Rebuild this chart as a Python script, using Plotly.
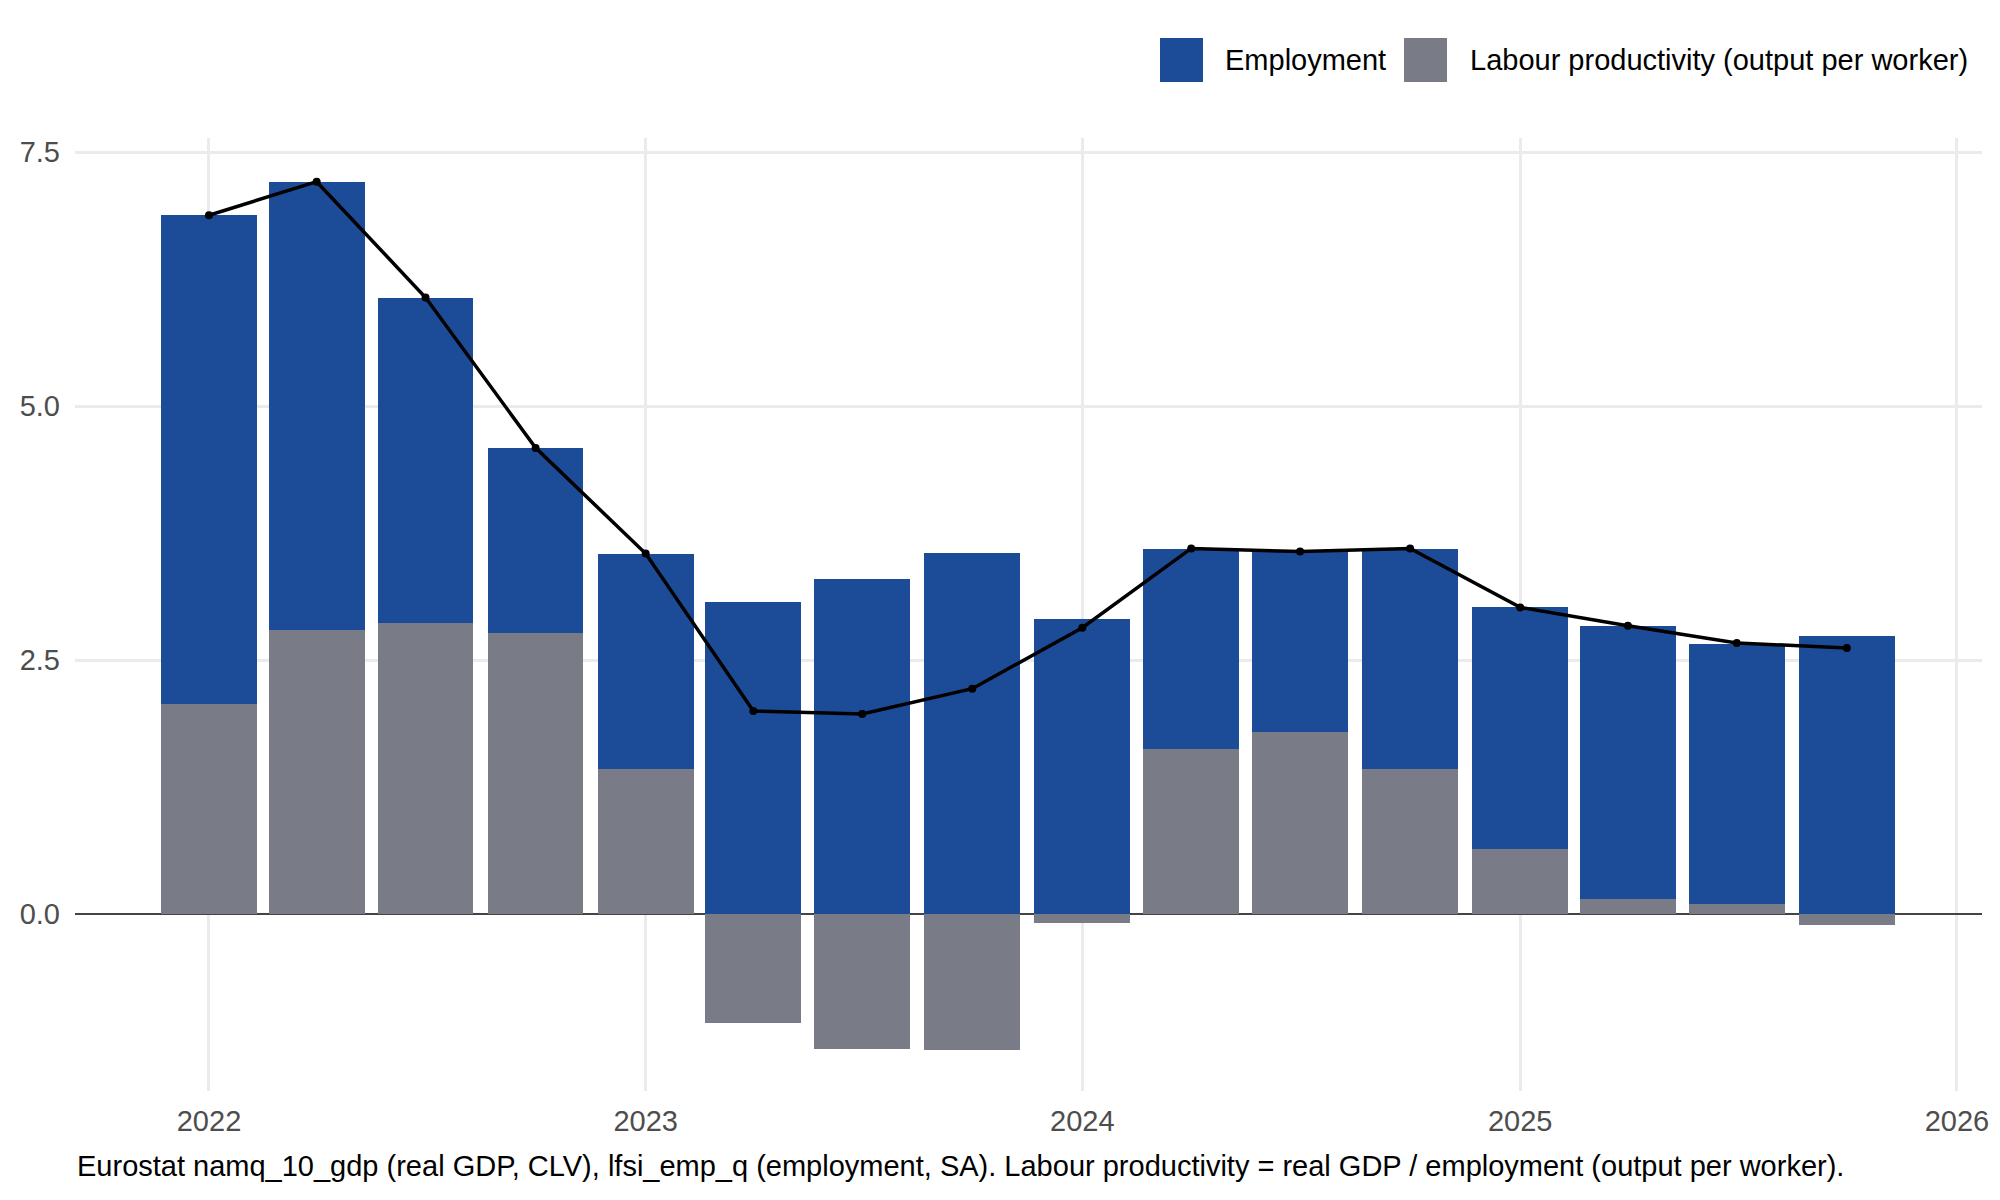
import plotly.graph_objects as go
import pandas as pd

quarters = ["2022-01-01", "2022-04-01", "2022-07-01", "2022-10-01",
            "2023-01-01", "2023-04-01", "2023-07-01", "2023-10-01",
            "2024-01-01", "2024-04-01", "2024-07-01", "2024-10-01",
            "2025-01-01", "2025-04-01", "2025-07-01", "2025-10-01"]
employment = [4.81, 4.41, 3.20, 1.82, 2.12, 3.07, 3.30, 3.56,
              2.91, 1.96, 1.79, 2.16, 2.38, 2.69, 2.56, 2.74]
productivity = [2.07, 2.80, 2.87, 2.77, 1.43, -1.07, -1.33, -1.34,
                -0.09, 1.63, 1.79, 1.43, 0.64, 0.15, 0.10, -0.11]
gdp_growth = [6.88, 7.21, 6.07, 4.59, 3.55, 2.00, 1.97, 2.22,
              2.82, 3.60, 3.57, 3.60, 3.02, 2.84, 2.67, 2.62]
year_ticks = ["2022-01-01", "2023-01-01", "2024-01-01", "2025-01-01", "2026-01-01"]
year_labels = ["2022", "2023", "2024", "2025", "2026"]
y_ticks = [0.0, 2.5, 5.0, 7.5]

BLUE = "#1c4b97"
GRAY = "#797c86"
FONT = "Liberation Sans, Arial, Helvetica, sans-serif"
FS = 29

x = pd.to_datetime(quarters)
bar_width = 80 * 24 * 3600 * 1000

fig = go.Figure()
fig.add_trace(go.Bar(x=x, y=productivity, name="Labour productivity (output per worker)",
                     marker=dict(color=GRAY, line=dict(width=0)), width=bar_width,
                     showlegend=False))
fig.add_trace(go.Bar(x=x, y=employment, name="Employment",
                     marker=dict(color=BLUE, line=dict(width=0)), width=bar_width,
                     showlegend=False))
fig.add_trace(go.Scatter(x=x, y=gdp_growth, mode="lines+markers", name="Real GDP growth",
                         line=dict(color="black", width=3.5),
                         marker=dict(color="black", size=8), showlegend=False))

# custom legend (large keys as in reference)
L, R, T, B = 75, 18, 138, 109
W, H = 2000 - L - R, 1200 - T - B
def px(xp):
    return (xp - L) / W
def py(yp):
    return (1200 - B - yp) / H

legend_items = [(BLUE, "Employment", 1160, 1223),
                (GRAY, "Labour productivity (output per worker)", 1404, 1468)]
for col, label, sx, tx in legend_items:
    fig.add_shape(type="rect", xref="paper", yref="paper",
                  x0=px(sx), x1=px(sx + 43), y0=py(82), y1=py(38),
                  fillcolor=col, line=dict(width=0))
    fig.add_annotation(xref="paper", yref="paper", x=px(tx), y=py(60),
                       xanchor="left", yanchor="middle", showarrow=False,
                       text=label, font=dict(size=FS, color="black", family=FONT))

fig.add_annotation(xref="paper", yref="paper", x=0, y=py(1166),
                   xanchor="left", yanchor="middle", showarrow=False,
                   text="Eurostat namq_10_gdp (real GDP, CLV), lfsi_emp_q (employment, SA). "
                        "Labour productivity = real GDP / employment (output per worker).",
                   font=dict(size=FS, color="black", family=FONT))

fig.update_layout(
    width=2000, height=1200,
    barmode="relative", bargap=0,
    plot_bgcolor="white", paper_bgcolor="white",
    margin=dict(l=L, r=R, t=T, b=B),
    font=dict(family=FONT, size=FS, color="#4d4d4d"),
    xaxis=dict(type="date", range=["2021-09-11", "2026-01-22"],
               tickvals=pd.to_datetime(year_ticks), ticktext=year_labels,
               showgrid=True, gridcolor="#ebebeb", gridwidth=2.5,
               zeroline=False, showline=False, ticks="",
               ticklabelstandoff=10,
               tickfont=dict(size=FS, color="#4d4d4d")),
    yaxis=dict(range=[-1.74, 7.64], tickvals=y_ticks,
               ticktext=[f"{v:.1f}" for v in y_ticks],
               showgrid=True, gridcolor="#ebebeb", gridwidth=2.5,
               zeroline=True, zerolinecolor="#444444", zerolinewidth=2,
               showline=False, ticks="",
               ticklabelstandoff=14,
               tickfont=dict(size=FS, color="#4d4d4d")),
)

fig.write_html("out.html")
